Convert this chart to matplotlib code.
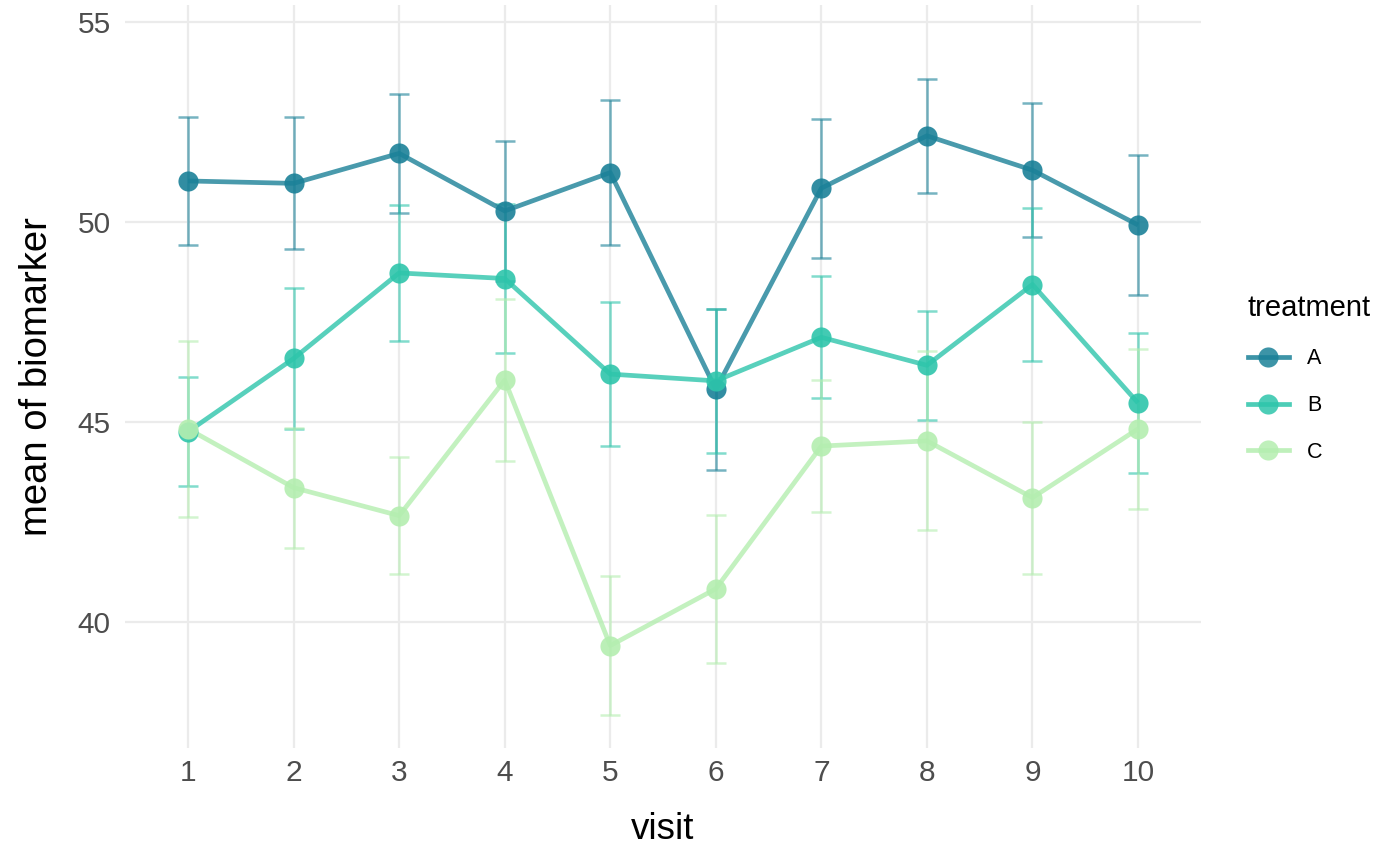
import matplotlib
matplotlib.use("Agg")
import matplotlib.pyplot as plt
import numpy as np

plt.rcParams['font.family'] = ['Liberation Sans', 'DejaVu Sans']

visits = [1, 2, 3, 4, 5, 6, 7, 8, 9, 10]
treatments = ['A', 'B', 'C']

mean_a = [51.03, 50.97, 51.72, 50.28, 51.24, 45.82, 50.85, 52.16, 51.30, 49.93]
err_a = [1.61, 1.65, 1.48, 1.75, 1.82, 2.02, 1.74, 1.43, 1.67, 1.75]

mean_b = [44.76, 46.59, 48.73, 48.59, 46.20, 46.03, 47.12, 46.42, 48.44, 45.48]
err_b = [1.37, 1.77, 1.69, 1.87, 1.80, 1.81, 1.53, 1.37, 1.92, 1.76]

mean_c = [44.83, 43.36, 42.66, 46.05, 39.41, 40.83, 44.40, 44.53, 43.11, 44.83]
err_c = [2.20, 1.50, 1.47, 2.03, 1.74, 1.85, 1.66, 2.24, 1.90, 2.01]

means = [mean_a, mean_b, mean_c]
errs = [err_a, err_b, err_c]
colors = ['#1b8198', '#2ec5ab', '#b4eeb0']

fig = plt.figure(figsize=(14, 8.66), dpi=100)
ax = fig.add_axes([0.0891, 0.1363, 0.769, 0.8579])

# error bars first, then lines, then points (like the ggplot layers)
for m, e, c in zip(means, errs, colors):
    ax.errorbar(visits, m, yerr=e, fmt='none', ecolor=c, alpha=0.6,
                elinewidth=1.8, capsize=7.5, capthick=1.8, zorder=2)
for m, c in zip(means, colors):
    ax.plot(visits, m, color=c, lw=3.4, alpha=0.8, zorder=3, solid_capstyle='butt')
for m, c in zip(means, colors):
    ax.plot(visits, m, 'o', color=c, ms=14.5, alpha=0.9, mec='none', zorder=4)

ax.set_xlim(0.4, 10.6)
ax.set_ylim(36.85, 55.43)
ax.set_xticks(visits)
ax.set_yticks([40, 45, 50, 55])
ax.grid(True, color='#ebebeb', lw=1.6)
ax.set_axisbelow(True)
for s in ax.spines.values():
    s.set_visible(False)
ax.tick_params(length=0, labelsize=21.5, labelcolor='#4d4d4d')
ax.tick_params(axis='y', pad=10)
ax.tick_params(axis='x', pad=8)
ax.set_xlabel('visit', fontsize=26.5, labelpad=18)
ax.set_ylabel('mean of biomarker', fontsize=27.5, labelpad=16)

handles = [plt.Line2D([], [], color=c, lw=3.4, marker='o', ms=14.5, mec='none', alpha=0.85)
           for c in colors]
leg = ax.legend(handles, treatments, title='treatment', loc='center left',
                bbox_to_anchor=(1.025, 0.497), frameon=False, fontsize=15.5,
                title_fontsize=21, handlelength=1.9, handletextpad=0.85,
                labelspacing=1.2, alignment='left')

fig.savefig('out.png', dpi=100, facecolor='white')
